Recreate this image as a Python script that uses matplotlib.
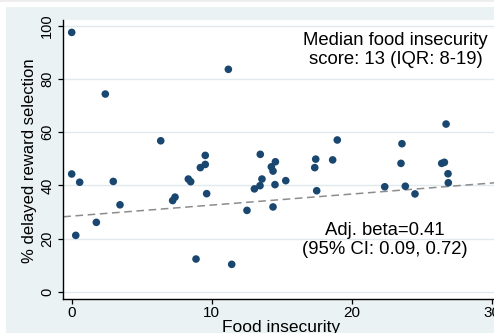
import matplotlib
matplotlib.use("Agg")
from matplotlib import pyplot as plt
from matplotlib.patches import Rectangle

# ======= Data ===================================================

food_insecurity = [
    0.0, 2.4, 11.19, 6.36, 9.54, 9.54, 9.19, 8.33, 8.5, 9.64, 7.38, 7.21,
    0.0, 0.57, 2.97, 3.45, 1.76, 0.29, 8.88, 11.43, 12.52, 13.47, 14.55,
    14.26, 14.38, 13.59, 13.45, 13.05, 14.52, 15.29, 14.38, 26.74, 18.97,
    23.59, 17.43, 17.36, 18.64, 23.52, 26.43, 26.62, 26.88, 26.9, 17.5,
    22.36, 23.83, 24.52,
]
delayed_pct = [
    97.6, 74.4, 83.7, 56.8, 51.3, 47.9, 46.7, 42.4, 41.4, 36.9, 35.6, 34.3,
    44.3, 41.2, 41.5, 32.7, 26.1, 21.2, 12.3, 10.3, 30.6, 51.7, 48.9,
    47.0, 45.4, 42.4, 39.9, 38.7, 40.3, 41.8, 31.9, 63.1, 57.1,
    55.7, 49.9, 46.7, 49.6, 48.3, 48.3, 48.7, 44.4, 41.0, 38.0,
    39.5, 39.7, 36.8,
]

# fitted line (two points on it)
fit_x = [0, 30]
fit_y = [28.45, 40.9]

x_ticks = [0, 10, 20, 30]
y_ticks = [0, 20, 40, 60, 80, 100]

median_text = "Median food insecurity\nscore: 13 (IQR: 8-19)"
beta_text = "Adj. beta=0.41\n(95% CI: 0.09, 0.72)"

# ======= Style ==================================================

W, H = 494, 333
GRAPH_BG = "#EAF2F3"
GRID_COLOR = "#E0EAED"
MARKER_COLOR = "#1A476F"

plt.rcParams["font.family"] = ["Liberation Sans", "DejaVu Sans"]


def main() -> None:
    fig = plt.figure(figsize=(W / 100, H / 100), dpi=100, facecolor="white")

    # 背景 (Stata風のグラフ領域)
    fig.patches.append(Rectangle((6 / W, 0), 1, (H - 7) / H, transform=fig.transFigure,
                                 facecolor=GRAPH_BG, edgecolor="none", zorder=-10))
    fig.patches.append(Rectangle((0, (H - 2) / H), 1, 2 / H, transform=fig.transFigure,
                                 facecolor="#EEEEEE", edgecolor="none", zorder=-10))

    left, right = 63.3, 498.7
    top, bottom = 19.5, 299.0
    ax = fig.add_axes([left / W, (H - bottom) / H, (right - left) / W, (bottom - top) / H])
    ax.set_facecolor("white")

    ax.scatter(food_insecurity, delayed_pct, s=30, color=MARKER_COLOR, edgecolors="none", zorder=3)
    ax.axline((fit_x[0], fit_y[0]), (fit_x[1], fit_y[1]), color="#8C8C8C", lw=1.1,
              linestyle=(0, (5, 3)), zorder=2)

    ax.set_xlim(-0.6, 30.5)
    ax.set_ylim(-2.75, 102.45)
    ax.set_xticks(x_ticks)
    ax.set_yticks(y_ticks)

    ax.grid(axis="y", color=GRID_COLOR, lw=1.0)
    ax.set_axisbelow(True)

    for side in ("top", "right"):
        ax.spines[side].set_visible(False)
    for side in ("left", "bottom"):
        ax.spines[side].set_linewidth(1.0)
        ax.spines[side].set_color("black")

    ax.tick_params(axis="both", length=3.6, width=0.9, color="black")
    ax.tick_params(axis="x", labelsize=11, pad=1.5)
    ax.tick_params(axis="y", labelsize=10.5, labelrotation=90, pad=3)
    for lbl in ax.get_yticklabels():
        lbl.set_va("center")

    ax.set_xlabel("Food insecurity", fontsize=12.5, va="top")
    ax.xaxis.set_label_coords(0.5, -0.075)
    ax.set_ylabel("% delayed reward selection", fontsize=12)
    ax.yaxis.set_label_coords(-0.06, 0.495)

    ax.text(23.13, 91.0, median_text, fontsize=13.3, ha="center", va="center",
            multialignment="center", linespacing=1.15)
    ax.text(22.35, 19.5, beta_text, fontsize=13.3, ha="center", va="center",
            multialignment="center", linespacing=1.15)

    fig.savefig("out.png", dpi=100)
    plt.close(fig)


if __name__ == "__main__":
    main()
